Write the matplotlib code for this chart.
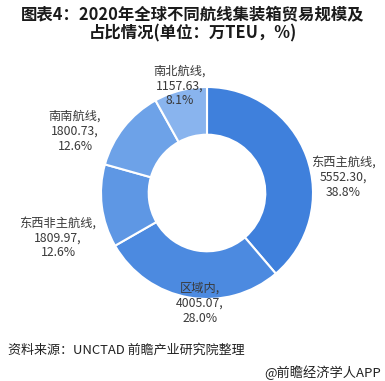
import matplotlib
matplotlib.use('Agg')
import matplotlib.pyplot as plt

plt.rcParams['font.family'] = ['Noto Sans CJK SC', 'DejaVu Sans']

# dati (万TEU, %)
routes = ['东西主航线', '区域内', '东西非主航线', '南南航线', '南北航线']
volumes = [5552.30, 4005.07, 1809.97, 1800.73, 1157.63]
shares = [38.8, 28.0, 12.6, 12.6, 8.1]
colors = ['#3f80dc', '#4c8ae0', '#5e97e4', '#6da2e8', '#89b4ee']

W, H = 385, 381
fig = plt.figure(figsize=(W / 100, H / 100), dpi=100)

def fx(px):
    return px / W

def fy(py):
    return 1 - py / H

# donut: centro (207,193) px, raggio 106 px
cx, cy, R = 207, 193, 106
ax = fig.add_axes([fx(cx - R), fy(cy + R), 2 * R / W, 2 * R / H])
ax.pie(volumes, colors=colors, startangle=90, counterclock=False, radius=1,
       wedgeprops=dict(width=0.45, edgecolor='white', linewidth=1.5))
ax.set_xlim(-1, 1)
ax.set_ylim(-1, 1)
ax.set_aspect('auto')
ax.axis('off')

# posizioni etichette (px)
label_pos = [(343, 177), (200, 303), (58, 238), (75, 131), (180, 86)]
for name, v, s, (lx, ly) in zip(routes, volumes, shares, label_pos):
    txt = '{},\n{:.2f},\n{:.1f}%'.format(name, v, s)
    fig.text(fx(lx), fy(ly), txt, ha='center', va='center', fontsize=8.8,
             color='#3a3a3a', linespacing=1.2)

fig.text(0.5, fy(24), '图表4：2020年全球不同航线集装箱贸易规模及\n占比情况(单位：万TEU，%)',
         ha='center', va='center', fontsize=11.8, fontweight='bold',
         color='#1a1a1a', linespacing=1.05)

fig.text(fx(8), fy(350), '资料来源：UNCTAD 前瞻产业研究院整理', ha='left', va='center',
         fontsize=9.4, color='#222222')
fig.text(fx(381), fy(373), '@前瞻经济学人APP', ha='right', va='center',
         fontsize=9.5, color='#222222')

fig.savefig('out.png', dpi=100, facecolor='white')
